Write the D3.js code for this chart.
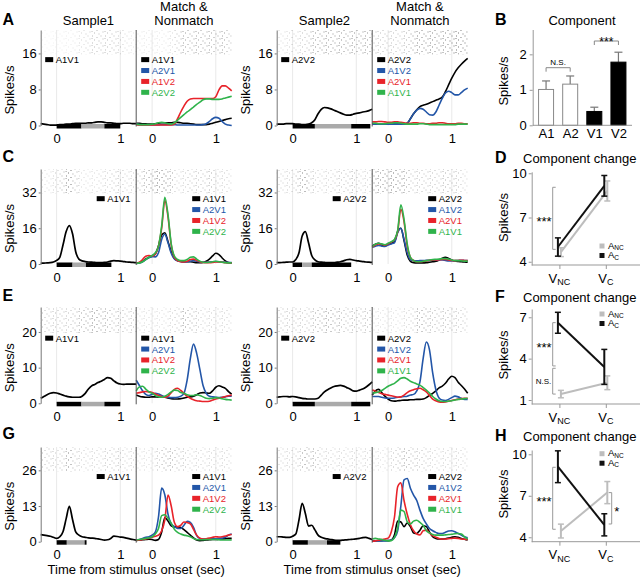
<!DOCTYPE html>
<html>
<head>
<meta charset="utf-8">
<script src="https://cdn.jsdelivr.net/npm/d3@7"></script>
<style>
  body { margin: 0; background: #fff; }
  svg  { display: block; font-family: "Liberation Sans", Arial, Helvetica, sans-serif; }
</style>
</head>
<body>
<svg id="fig" width="640" height="580"></svg>
<script>
"use strict";

// ── data: PSTH time grid (sec) ────────────────────────────────────────────────
const timeSec = [-0.25,-0.2,-0.15,-0.1,-0.05,0,0.05,0.1,0.15,0.2,
                 0.25,0.3,0.35,0.4,0.45,0.5,0.55,0.6,0.65,0.7,
                 0.75,0.8,0.85,0.9,0.95,1,1.05,1.1,1.15,1.2,
                 1.25];
const rasterStarts = [-0.25,-0.15,-0.05,0.05,0.15,0.25,0.35,0.45,0.55,0.65,0.75,0.85,0.95,1.05,1.15];

const legendMatch1 = ["A1V1", "A2V1", "A1V2", "A2V2"];
const legendMatch2 = ["A2V2", "A1V2", "A2V1", "A1V1"];

const yTicksA = [0, 8, 16];
const yTicksC = [0, 16, 32];
const yTicksE = [0, 10, 20];
const yTicksG = [0, 13, 26];
const rowYMax = [21.2, 42.5, 27, 34.5];

// stimulus timing bars: [start, end, 1 = black / 0 = gray]
const stimA_1 = [[0, 0.39, 1], [0.39, 0.75, 0], [0.75, 1.0, 1]];
const stimA_2 = [[0, 0.35, 1], [0.35, 0.92, 0], [0.92, 1.22, 1]];
const stimC_1 = [[0, 0.25, 1], [0.25, 0.46, 0], [0.46, 0.86, 1]];
const stimC_2 = [[0, 0.15, 1], [0.15, 0.30, 0], [0.30, 0.92, 1]];
const stimE_1 = [[0, 0.39, 1], [0.39, 0.75, 0], [0.75, 1.0, 1]];
const stimE_2 = [[0, 0.35, 1], [0.35, 0.92, 0], [0.92, 1.22, 1]];
const stimG_1 = [[0, 0.16, 1], [0.16, 0.44, 0], [0.44, 0.47, 1]];
const stimG_2 = [[0, 0.24, 1], [0.24, 0.54, 0], [0.54, 0.75, 1]];

// ── row A ─────────────────────────────────────────────────────────────────────
const A_s1   = [0.4,0.3,0.2,0.1,0.1,0.1,0.2,0.2,0.3,0.3, 0.4,0.5,0.5,0.5,0.5,0.6,0.6,0.7,0.8,0.8, 0.7,0.6,0.6,0.5,0.4,0.4,0.5,0.5,0.5,0.4, 0.4];
const A_m1_k = [0.5,0.5,0.4,0.4,0.3,0.3,0.4,0.5,0.6,0.6, 0.6,0.6,0.7,0.7,0.6,0.5,0.5,0.4,0.3,0.2, 0.2,0.2,0.2,0.3,0.5,0.7,0.9,1.1,1.3,1.5, 1.6];
const A_m1_b = [0.3,0.2,0.1,0.1,0.1,0.1,0.1,0.1,0.2,0.2, 0.2,0.2,0.2,0.1,0.1,0.1,0.1,0.1,0.1,0.1, 0.1,0.2,0.4,0.9,1.5,1.8,1.6,0.9,0.3,0.1, 0.0];
const A_m1_r = [0.2,0.1,0.1,0.1,0.1,0.1,0.1,0.1,0.1,0.1, 0.1,0.1,0.3,1.5,3.0,4.3,5.4,5.9,6.0,6.0, 6.0,6.0,6.0,6.0,6.0,6.4,7.9,8.8,8.8,8.3, 7.7];
const A_m1_g = [0.3,0.2,0.2,0.2,0.2,0.3,0.4,0.6,0.7,0.6, 0.4,0.3,0.6,1.2,1.8,2.4,3.0,3.5,4.1,4.7, 5.2,5.7,5.9,5.9,5.8,5.8,5.8,5.9,6.1,6.3, 6.5];
const A_s2   = [0.3,0.3,0.3,0.4,0.4,0.4,0.3,0.3,0.2,0.2, 0.3,0.6,1.3,2.6,3.6,4.0,3.9,3.7,3.4,3.1, 2.8,2.5,2.3,2.3,2.5,2.7,2.8,3.0,3.1,3.3, 3.6];
const A_m2_k = [0.4,0.4,0.4,0.3,0.3,0.3,0.3,0.3,0.3,0.3, 0.3,0.5,1.5,2.6,3.5,4.2,4.5,4.7,5.0,5.3, 5.6,5.9,6.3,7.5,9.0,10.5,11.8,12.8,13.6,14.3, 14.9];
const A_m2_b = [0.3,0.3,0.3,0.3,0.3,0.3,0.3,0.3,0.3,0.3, 0.3,0.5,1.5,2.6,3.4,3.8,3.6,3.0,2.4,2.3, 3.0,4.5,6.0,7.2,7.6,7.3,6.8,6.8,7.3,7.9, 8.3];
const A_m2_r = [0.8,0.8,0.9,0.9,0.8,0.7,0.7,0.8,0.8,0.7, 0.6,0.5,0.5,0.6,0.6,0.5,0.5,0.4,0.4,0.5, 0.5,0.6,0.6,0.5,0.4,0.4,0.4,0.5,0.5,0.4, 0.4];
const A_m2_g = [0.5,0.5,0.4,0.4,0.4,0.5,0.5,0.6,0.6,0.5, 0.4,0.3,0.3,0.3,0.3,0.4,0.4,0.3,0.2,0.2, 0.2,0.2,0.2,0.2,0.2,0.2,0.2,0.3,0.3,0.3, 0.3];

// ── row C ─────────────────────────────────────────────────────────────────────
const C_s1   = [0.3,0.4,0.5,0.6,0.9,1.6,3.0,8.5,14.5,17.2, 13.5,5.5,2.2,1.4,1.1,0.9,0.8,0.7,0.6,0.6, 0.7,0.9,1.3,1.5,1.4,1.3,1.1,0.9,0.8,0.7, 0.6];
const C_m1_k = [0.3,0.6,1.2,2.3,3.0,3.6,4.5,8.0,13.0,14.0, 10.0,5.5,2.5,1.5,1.2,1.0,1.0,1.0,0.8,0.6, 0.6,0.7,1.2,2.2,3.6,4.8,4.2,2.7,1.4,0.7, 0.5];
const C_m1_b = [0.3,0.5,1.0,2.0,2.8,3.3,3.2,5.0,11.0,13.3, 9.5,4.8,2.2,1.4,1.0,0.9,1.0,1.3,1.5,1.2, 0.9,0.8,0.8,0.9,1.0,1.1,1.0,0.9,0.8,0.7, 0.6];
const C_m1_r = [0.3,0.8,2.0,3.5,3.8,3.6,4.5,8.0,16.0,28.5, 21.0,8.5,3.0,1.5,1.0,0.9,1.2,2.0,2.2,1.6, 1.0,0.7,0.6,0.6,0.7,0.9,0.9,0.8,0.6,0.5, 0.5];
const C_m1_g = [0.3,0.5,1.0,2.0,3.0,3.8,5.0,8.0,17.0,29.8, 22.0,9.0,3.5,2.0,1.5,1.5,2.0,3.0,3.2,2.2, 1.3,0.8,0.7,0.8,1.0,1.2,1.0,0.8,0.6,0.5, 0.5];
const C_s2   = [0.6,0.6,0.7,0.8,0.9,0.9,2.0,5.0,12.5,14.5, 9.5,3.8,1.8,1.0,0.8,0.7,0.6,0.6,0.6,0.8, 1.0,1.4,1.9,2.1,1.8,1.5,1.3,1.1,0.9,0.8, 0.7];
const C_m2_k = [8.0,8.8,9.3,8.5,8.0,8.8,9.3,10.0,14.5,16.0, 10.5,4.0,1.2,0.6,0.5,0.5,0.5,0.6,0.8,1.0, 1.2,1.8,2.6,3.0,2.5,1.8,1.3,1.1,1.0,0.9, 0.8];
const C_m2_b = [7.5,8.0,8.3,8.0,7.8,8.5,9.0,9.5,14.0,16.0, 11.0,5.0,2.0,1.5,1.4,1.5,1.5,1.6,1.6,1.7, 1.7,1.8,1.8,1.6,1.4,1.4,1.5,1.6,1.7,1.6, 1.5];
const C_m2_r = [7.5,8.5,9.0,8.8,8.4,9.0,9.8,10.8,14.5,24.5, 19.0,8.0,3.0,1.5,1.0,1.0,1.1,1.4,1.7,1.8, 1.8,1.9,2.0,2.0,1.8,1.6,1.5,1.6,1.7,1.6, 1.5];
const C_m2_g = [7.8,8.8,9.3,9.0,8.6,9.3,10.0,11.0,15.0,26.5, 20.0,9.0,3.0,1.5,1.0,1.0,1.2,1.5,1.8,2.0, 2.1,2.2,2.4,2.4,2.2,1.8,1.5,1.5,1.4,1.3, 1.3];

// ── row E ─────────────────────────────────────────────────────────────────────
const E_s1   = [1.4,1.9,2.4,2.8,3.0,2.9,2.6,2.3,2.0,1.8, 1.7,1.7,1.7,2.0,2.8,4.0,4.9,5.3,5.8,6.2, 6.7,7.2,7.0,6.3,5.7,5.4,5.3,5.4,5.4,5.4, 5.4];
const E_m1_k = [2.3,2.0,1.8,1.7,1.7,1.8,1.8,1.7,1.7,1.7, 1.5,1.3,1.2,1.2,1.3,1.5,1.7,1.8,2.0,2.4, 2.9,3.0,2.9,2.8,3.5,4.5,4.9,4.6,4.2,3.3, 2.6];
const E_m1_b = [6.5,5.0,3.5,2.5,2.2,2.5,2.8,2.6,2.2,1.8, 1.7,1.6,1.6,1.7,2.0,2.8,6.5,12.5,16.6,14.0, 9.5,5.0,2.8,2.0,1.8,1.7,1.6,1.7,1.8,2.0, 2.0];
const E_m1_r = [2.8,3.0,3.2,3.3,3.2,3.0,2.6,2.2,1.9,1.7, 2.0,3.0,3.9,4.2,3.6,2.8,2.0,1.4,1.0,0.7, 0.6,0.5,0.5,0.6,0.9,1.2,1.4,1.6,1.9,2.1, 2.3];
const E_m1_g = [3.5,4.6,4.8,4.0,3.2,2.8,2.2,1.8,1.7,2.0, 2.5,3.2,3.7,3.6,3.0,2.8,2.4,2.2,2.2,2.4, 2.2,1.8,1.4,1.3,1.4,1.6,1.5,1.3,1.1,1.0, 0.9];
const E_s2   = [1.7,1.8,1.9,1.9,1.8,1.9,1.8,1.6,1.4,1.3, 1.2,1.2,1.2,1.4,2.3,3.2,3.8,4.3,4.7,4.9, 5.0,4.8,4.4,4.0,3.5,3.4,3.7,4.0,4.5,5.2, 6.0];
const E_m2_k = [2.3,3.5,3.9,3.0,2.0,1.2,0.7,0.6,0.7,0.8, 0.9,0.9,1.0,1.0,1.1,1.1,1.2,1.6,2.2,2.8, 3.5,4.3,4.8,5.6,6.8,7.6,7.2,5.9,5.0,4.0, 2.8];
const E_m2_b = [1.9,1.9,1.9,1.7,1.5,1.4,1.4,1.5,1.7,1.8, 1.9,2.0,2.3,2.5,3.5,6.0,12.5,17.2,15.0,8.5, 3.8,1.5,0.9,0.8,1.1,1.6,2.0,1.8,1.4,1.1, 1.1];
const E_m2_r = [3.7,3.4,3.0,2.7,2.5,2.3,2.1,1.9,1.7,1.8, 2.3,3.0,3.5,3.8,4.1,4.2,3.8,3.2,2.2,1.2, 0.7,0.4,0.3,0.4,0.6,0.8,1.0,1.2,1.3,1.4, 1.4];
const E_m2_g = [2.8,3.0,3.2,3.6,4.2,4.8,5.2,5.6,6.3,7.0, 7.2,6.8,6.2,5.8,5.4,5.1,4.4,3.7,2.9,1.9, 1.2,0.7,0.5,0.5,0.6,0.7,0.9,1.1,1.2,1.3, 1.4];

// ── row G ─────────────────────────────────────────────────────────────────────
const G_s1   = [2.6,2.4,2.2,2.0,1.6,1.2,1.8,3.6,8.4,12.9, 8.1,3.6,2.4,1.8,1.6,1.4,1.3,1.2,1.0,0.8, 0.6,0.7,1.2,2.0,1.9,1.7,1.6,1.3,1.0,0.8, 0.6];
const G_m1_k = [0.5,0.6,0.7,0.8,0.9,0.8,0.5,0.8,3.5,8.8, 7.5,5.8,5.4,5.4,5.2,4.4,3.4,2.4,1.4,0.6, 0.4,0.5,0.6,0.7,0.8,0.8,0.9,1.0,1.1,1.2, 1.2];
const G_m1_b = [0.4,0.8,1.2,1.6,1.8,2.4,3.5,9.0,19.5,17.0, 10.0,6.5,5.5,4.8,4.8,6.0,7.4,7.0,5.2,2.2, 1.2,1.0,1.0,1.0,1.1,1.1,1.2,1.3,1.6,2.4, 2.8];
const G_m1_r = [0.5,0.6,0.8,1.0,1.3,1.6,2.0,2.4,4.0,8.0, 17.0,13.0,7.0,5.5,6.0,7.2,7.0,6.5,4.5,2.4, 1.3,1.0,1.1,1.3,1.6,1.8,1.7,1.8,2.1,2.4, 2.6];
const G_m1_g = [0.6,0.8,1.0,1.2,1.4,1.8,2.8,4.8,9.5,9.8, 8.5,6.8,4.5,3.4,2.8,2.4,2.2,1.8,1.2,0.8, 0.7,0.7,0.8,0.8,0.8,0.8,0.7,0.6,0.6,0.6, 0.6];
const G_s2   = [1.8,1.8,1.7,1.6,1.6,2.0,2.8,7.9,14.0,10.3, 5.7,6.0,4.3,2.4,1.6,1.2,1.0,0.8,0.6,0.5, 0.5,0.6,0.7,0.8,0.9,1.0,1.2,1.5,1.6,1.2, 0.8];
const G_m2_k = [0.3,0.3,0.4,0.4,0.5,0.4,0.6,2.5,7.5,7.2, 5.5,6.8,5.5,3.2,3.0,4.2,5.8,5.5,3.5,1.8, 1.2,1.0,1.0,1.1,1.3,1.6,1.8,1.6,1.2,0.9, 0.6];
const G_m2_b = [0.2,0.2,0.3,0.3,0.3,0.4,0.6,1.5,4.0,13.0, 22.5,23.0,19.5,17.0,15.0,11.5,8.5,6.5,4.8,4.0, 3.4,3.0,3.0,3.4,3.9,4.0,3.6,3.0,2.4,1.8, 1.4];
const G_m2_r = [0.2,0.3,0.5,0.8,1.0,1.3,3.6,9.0,20.0,21.5, 15.0,10.0,6.2,4.0,2.8,2.5,4.0,4.2,3.2,2.2, 1.6,1.2,1.0,1.0,1.1,1.2,1.3,1.2,1.0,0.9, 0.8];
const G_m2_g = [1.0,1.2,1.0,0.8,0.5,0.3,0.4,1.5,5.0,11.5, 11.0,7.3,6.5,7.5,7.8,7.0,6.0,4.0,3.2,2.6, 2.4,2.4,2.4,2.5,2.6,2.7,2.9,3.0,2.8,1.8, 1.0];

// ── raster density per 0.1 s bin (0..1) ───────────────────────────────────────
const rasA_s1 = [0.1,0.1,0.1,0.15,0.15,0.2,0.3,0.4,0.5,0.5,0.5,0.5,0.4,0.3,0.2];
const rasA_m1 = [0.2,0.2,0.2,0.2,0.2,0.3,0.5,0.7,0.7,0.7,0.7,0.7,0.7,0.7,0.6];
const rasA_s2 = [0.3,0.3,0.4,0.4,0.5,0.7,0.8,0.8,0.8,0.8,0.8,0.8,0.8,0.8,0.8];
const rasA_m2 = [0.5,0.5,0.5,0.5,0.5,0.6,0.8,0.9,0.9,0.9,0.9,0.9,1,1,1];
const rasC_s1 = [0.3,0.3,0.4,0.6,1.0,0.6,0.3,0.3,0.3,0.4,0.4,0.5,0.5,0.4,0.4];
const rasC_m1 = [0.5,0.7,0.9,1.0,1.0,0.7,0.4,0.4,0.5,0.5,0.5,0.6,0.5,0.4,0.4];
const rasC_s2 = [0.4,0.4,0.4,0.7,1.0,0.5,0.4,0.4,0.4,0.5,0.5,0.6,0.5,0.4,0.4];
const rasC_m2 = [0.9,0.9,1.0,1.0,1.0,0.7,0.5,0.5,0.5,0.5,0.5,0.6,0.6,0.5,0.4];
const rasE_s1 = [0.5,0.5,0.5,0.5,0.5,0.6,0.7,0.8,0.9,0.8,0.7,0.6,0.6,0.5,0.5];
const rasE_m1 = [0.3,0.3,0.3,0.3,0.3,0.4,0.5,0.8,0.7,0.5,0.4,0.4,0.4,0.4,0.4];
const rasE_s2 = [0.5,0.5,0.5,0.5,0.5,0.6,0.7,0.8,0.8,0.7,0.6,0.6,0.6,0.6,0.6];
const rasE_m2 = [0.3,0.3,0.3,0.3,0.3,0.4,0.5,0.8,0.7,0.6,0.6,0.6,0.6,0.5,0.5];
const rasG_s1 = [0.5,0.5,0.4,0.5,0.9,0.5,0.4,0.4,0.4,0.4,0.5,0.5,0.5,0.4,0.4];
const rasG_m1 = [0.3,0.3,0.3,0.5,0.7,0.7,0.6,0.5,0.4,0.4,0.4,0.4,0.4,0.4,0.4];
const rasG_s2 = [0.4,0.4,0.4,0.5,0.9,0.7,0.6,0.4,0.4,0.4,0.4,0.4,0.4,0.4,0.4];
const rasG_m2 = [0.3,0.3,0.3,0.5,0.7,0.7,0.6,0.5,0.5,0.4,0.4,0.4,0.4,0.4,0.4];

// ── panel B: component ────────────────────────────────────────────────────────
const compCats = ["A1", "A2", "V1", "V2"];
const compMean = [1.01, 1.16, 0.39, 1.78];
const compSem  = [0.24, 0.23, 0.12, 0.28];
const compTicks = [0, 1, 2];

// ── panels D / F / H: component change ───────────────────────────────────────
const changeCats = ["NC", "C"];
const D_ac = [5.0, 9.15],  D_acSem = [0.62, 0.70];
const D_anc = [4.65, 8.8], D_ancSem = [0.30, 0.68];
const D_sig = [[4.84, 9.05, "***", "L"]];
const F_ac = [6.6, 3.4],   F_acSem = [0.76, 1.27];
const F_anc = [1.43, 2.25], F_ancSem = [0.27, 0.50];
const F_sig = [[3.47, 6.61, "***", "L"], [1.43, 3.3, "N.S.", "L"]];
const H_ac = [9.1, 4.9],   H_acSem = [1.15, 0.80];
const H_anc = [4.45, 7.23], H_ancSem = [0.50, 0.80];
const H_sig = [[4.58, 9.06, "***", "L"], [4.96, 7.23, "*", "R"]];

// ── layout / style ────────────────────────────────────────────────────────────
const COLORS = ["#000000", "#2356a8", "#e8232a", "#2fb34b"];
const tDomain = [-0.25, 1.25];
const rowBase = [125.5, 264, 403.3, 541.7];
const rowTop  = [30, 169, 307, 447];
const pairX   = [40.7, 276.7];
const panelW  = 95.5;
const AXIS_GRAY = "#777";
const LEG_STEP = 10.9;
const fmtInt = d3.format("d");

const rows = [
  { letter: "A", ticks: yTicksA, legendRight: false, pairs: [
    { sample: A_s1, sLabel: "A1V1", stim: stimA_1, rasS: rasA_s1, match: [A_m1_k, A_m1_b, A_m1_r, A_m1_g], rasM: rasA_m1, legend: legendMatch1 },
    { sample: A_s2, sLabel: "A2V2", stim: stimA_2, rasS: rasA_s2, match: [A_m2_k, A_m2_b, A_m2_r, A_m2_g], rasM: rasA_m2, legend: legendMatch2 } ] },
  { letter: "C", ticks: yTicksC, legendRight: true, pairs: [
    { sample: C_s1, sLabel: "A1V1", stim: stimC_1, rasS: rasC_s1, match: [C_m1_k, C_m1_b, C_m1_r, C_m1_g], rasM: rasC_m1, legend: legendMatch1 },
    { sample: C_s2, sLabel: "A2V2", stim: stimC_2, rasS: rasC_s2, match: [C_m2_k, C_m2_b, C_m2_r, C_m2_g], rasM: rasC_m2, legend: legendMatch2 } ] },
  { letter: "E", ticks: yTicksE, legendRight: false, pairs: [
    { sample: E_s1, sLabel: "A1V1", stim: stimE_1, rasS: rasE_s1, match: [E_m1_k, E_m1_b, E_m1_r, E_m1_g], rasM: rasE_m1, legend: legendMatch1 },
    { sample: E_s2, sLabel: "A2V2", stim: stimE_2, rasS: rasE_s2, match: [E_m2_k, E_m2_b, E_m2_r, E_m2_g], rasM: rasE_m2, legend: legendMatch2 } ] },
  { letter: "G", ticks: yTicksG, legendRight: true, pairs: [
    { sample: G_s1, sLabel: "A1V1", stim: stimG_1, rasS: rasG_s1, match: [G_m1_k, G_m1_b, G_m1_r, G_m1_g], rasM: rasG_m1, legend: legendMatch1 },
    { sample: G_s2, sLabel: "A2V2", stim: stimG_2, rasS: rasG_s2, match: [G_m2_k, G_m2_b, G_m2_r, G_m2_g], rasM: rasG_m2, legend: legendMatch2 } ] },
];

const svg = d3.select("#fig");

// speckle pattern used to suggest the spike rasters
const pat = svg.append("defs").append("pattern")
  .attr("id", "speck").attr("patternUnits", "userSpaceOnUse")
  .attr("width", 13).attr("height", 7);
[[1, 0.5], [5.5, 2], [9.5, 0.5], [3, 4.5], [7.5, 5.5], [11.5, 3.5], [0.5, 3]].forEach(([px, py]) =>
  pat.append("rect").attr("x", px).attr("y", py).attr("width", 1).attr("height", 1).attr("fill", "#555"));

function label(g, x, y, txt, size, opts = {}) {
  return g.append("text").attr("x", x).attr("y", y)
    .attr("font-size", size)
    .attr("font-weight", opts.bold ? "bold" : null)
    .attr("text-anchor", opts.anchor || "start")
    .attr("fill", opts.fill || "#000")
    .text(txt);
}

function styleAxis(ax, color) {
  ax.select(".domain").attr("stroke", color);
  ax.selectAll(".tick line").attr("stroke", color);
  ax.selectAll("text").attr("fill", "#000").attr("font-size", 13)
    .attr("font-family", "Liberation Sans, Arial, sans-serif");
}

// ── PSTH panels ───────────────────────────────────────────────────────────────
function drawRaster(g, x, y, dens, yMax, topTick) {
  const y0 = y(yMax), y1 = y(topTick) + 1;
  g.selectAll(null).data(dens).enter().append("rect")
    .attr("x", (d, i) => x(rasterStarts[i]))
    .attr("width", (d, i) => x(rasterStarts[i] + 0.1) - x(rasterStarts[i]))
    .attr("y", y0).attr("height", y1 - y0)
    .attr("fill", "url(#speck)")
    .attr("opacity", d => d * 0.8);
}

function drawLegend(g, lx, cy0, labels, colored) {
  labels.forEach((lab, i) => {
    const cy = cy0 + i * LEG_STEP;
    const c = colored ? COLORS[i] : "#000";
    g.append("rect").attr("x", lx).attr("y", cy - 2.5).attr("width", 8).attr("height", 5).attr("fill", c);
    label(g, lx + 10.5, cy + 3.5, lab, 9.5, { fill: c });
  });
}

rows.forEach((row, ri) => {
  const base = rowBase[ri];
  const yMax = rowYMax[ri];
  const y = d3.scaleLinear().domain([0, yMax]).range([base, rowTop[ri]]);
  const topTick = d3.max(row.ticks);
  const legendY = y(topTick) + 6.2;

  label(svg, 2.5, base - 102.5 + (ri === 0 ? 2 : 0), row.letter, 16, { bold: true });

  row.pairs.forEach((p, pi) => {
    const x0 = pairX[pi];
    const g = svg.append("g");
    const xs = d3.scaleLinear().domain(tDomain).range([x0, x0 + panelW]);
    const xm = d3.scaleLinear().domain(tDomain).range([x0 + panelW, x0 + 2 * panelW]);

    [xs, xm].forEach(x => {
      [0, 1].forEach(t => g.append("line")
        .attr("x1", x(t)).attr("x2", x(t)).attr("y1", y(yMax)).attr("y2", base)
        .attr("stroke", "#e2e2e2").attr("stroke-width", 0.8));
    });

    drawRaster(g, xs, y, p.rasS, yMax, topTick);
    drawRaster(g, xm, y, p.rasM, yMax, topTick);

    // stimulus bar
    g.selectAll(null).data(p.stim).enter().append("rect")
      .attr("x", d => xs(d[0])).attr("width", d => xs(d[1]) - xs(d[0]))
      .attr("y", base - 1.5).attr("height", 4.5)
      .attr("fill", d => d[2] ? "#000" : "#aaa");

    const lineS = d3.line().x((d, i) => xs(timeSec[i])).y(d => y(d)).curve(d3.curveMonotoneX);
    const lineM = d3.line().x((d, i) => xm(timeSec[i])).y(d => y(d)).curve(d3.curveMonotoneX);

    g.append("path").datum(p.sample).attr("d", lineS)
      .attr("fill", "none").attr("stroke", "#000").attr("stroke-width", 1.7);
    p.match.forEach((s, k) => {
      g.append("path").datum(s).attr("d", lineM)
        .attr("fill", "none").attr("stroke", COLORS[k]).attr("stroke-width", 1.6);
    });

    // y axis + divider
    g.append("g").attr("transform", `translate(${x0},0)`)
      .call(d3.axisLeft(y).tickValues(row.ticks).tickSize(2).tickSizeOuter(0).tickPadding(2).tickFormat(fmtInt))
      .call(ax => styleAxis(ax, AXIS_GRAY));
    g.append("line")
      .attr("x1", x0 + panelW).attr("x2", x0 + panelW)
      .attr("y1", y(yMax)).attr("y2", base + 1)
      .attr("stroke", "#555").attr("stroke-width", 1);

    // x tick labels
    [xs, xm].forEach(x => {
      g.append("g").attr("transform", `translate(0,${base})`)
        .call(d3.axisBottom(x).tickValues([0, 1]).tickSize(0).tickPadding(8.5).tickFormat(fmtInt))
        .call(ax => { ax.select(".domain").remove(); styleAxis(ax, AXIS_GRAY); });
    });

    // legends
    const offS = row.legendRight ? 56 : 4.5;
    drawLegend(g, x0 + offS, legendY, [p.sLabel], false);
    drawLegend(g, x0 + panelW + (row.legendRight ? 56 : 5), legendY, p.legend, true);

    // y label
    label(g, 0, 0, "Spikes/s", 13, { anchor: "middle" })
      .attr("transform", `translate(${x0 - 26.5},${base - 35.5}) rotate(-90)`);

    // column titles on top row
    if (ri === 0) {
      label(g, x0 + panelW / 2, 25, pi === 0 ? "Sample1" : "Sample2", 13, { anchor: "middle" });
      label(g, x0 + panelW * 1.5, 10.5, "Match &", 13, { anchor: "middle" });
      label(g, x0 + panelW * 1.5, 25, "Nonmatch", 13, { anchor: "middle" });
    }
    if (ri === rows.length - 1) {
      label(g, x0 + panelW, 574, "Time from stimulus onset (sec)", 13, { anchor: "middle" });
    }
  });
});

// ── Panel B: component bars ───────────────────────────────────────────────────
(function drawComponent() {
  const g = svg.append("g");
  const axX = 532.7;
  const bx = d3.scalePoint().domain(compCats).range([534, 630.5]).padding(0.5);
  const by = d3.scaleLinear().domain([0, 2.7]).range([125.3, 29.5]);

  label(g, 495, 25, "B", 16, { bold: true });
  label(g, 582, 25, "Component", 13, { anchor: "middle" });

  compCats.forEach((c, i) => {
    const filled = c[0] === "V";
    const cx = bx(c);
    g.append("line").attr("x1", cx).attr("x2", cx)
      .attr("y1", by(compMean[i])).attr("y2", by(compMean[i] + compSem[i]))
      .attr("stroke", "#777").attr("stroke-width", 1.2);
    g.append("line").attr("x1", cx - 4).attr("x2", cx + 4)
      .attr("y1", by(compMean[i] + compSem[i])).attr("y2", by(compMean[i] + compSem[i]))
      .attr("stroke", "#777").attr("stroke-width", 1.2);
    g.append("rect").attr("x", cx - 7.5).attr("width", 15)
      .attr("y", by(compMean[i])).attr("height", by(0) - by(compMean[i]))
      .attr("fill", filled ? "#000" : "#fff")
      .attr("stroke", filled ? "#000" : "#888").attr("stroke-width", 1);
  });

  g.append("g").attr("transform", `translate(${axX},0)`)
    .call(d3.axisLeft(by).tickValues(compTicks).tickSize(3).tickSizeOuter(0).tickPadding(3).tickFormat(fmtInt))
    .call(ax => styleAxis(ax, "#999"));
  g.append("line").attr("x1", axX).attr("x2", 632).attr("y1", by(0)).attr("y2", by(0))
    .attr("stroke", "#999");
  g.append("g").attr("transform", `translate(0,${by(0)})`)
    .call(d3.axisBottom(bx).tickSize(0).tickPadding(3))
    .call(ax => { ax.select(".domain").remove(); styleAxis(ax, "#999"); });

  // significance brackets
  function hBracket(c1, c2, yPos, txt, size, dyTxt) {
    const x1 = bx(c1), x2 = bx(c2);
    g.append("path")
      .attr("d", `M${x1},${yPos + 4}V${yPos}H${x2}V${yPos + 4}`)
      .attr("fill", "none").attr("stroke", "#888").attr("stroke-width", 1);
    label(g, (x1 + x2) / 2, yPos + dyTxt, txt, size, { anchor: "middle" });
  }
  hBracket("A1", "A2", 67.7, "N.S.", 8, -2.8);
  hBracket("V1", "V2", 41, "***", 12, 5.2);

  label(g, 0, 0, "Spikes/s", 13, { anchor: "middle" })
    .attr("transform", "translate(507.5,81) rotate(-90)");
})();

// ── Panels D / F / H: component change ────────────────────────────────────────
function drawChange(spec) {
  const g = svg.append("g");
  const axX = 531.7;
  const x = d3.scalePoint().domain(changeCats).range([559.4, 605.8]);
  const y = d3.scaleLinear().domain(spec.yDomain).range(spec.yRange);
  const base = spec.yRange[0];

  label(g, 495, spec.titleY, spec.letter, 16, { bold: true });
  label(g, 523, spec.titleY, "Component change", 13);

  // axes
  g.append("g").attr("transform", `translate(${axX},0)`)
    .call(d3.axisLeft(y).tickValues(spec.ticks).tickSize(3).tickSizeOuter(0).tickPadding(2).tickFormat(fmtInt))
    .call(ax => styleAxis(ax, "#999"));
  g.append("line").attr("x1", axX).attr("x2", 640).attr("y1", base).attr("y2", base).attr("stroke", "#999");
  g.append("g").attr("transform", `translate(0,${base})`)
    .call(d3.axisBottom(x).tickSize(4).tickPadding(4).tickFormat(""))
    .call(ax => { ax.select(".domain").remove(); styleAxis(ax, "#999"); });
  changeCats.forEach(c => {
    const t = g.append("text").attr("x", x(c)).attr("y", base + 17.5)
      .attr("text-anchor", "middle").attr("font-size", 13);
    t.append("tspan").text("V");
    t.append("tspan").attr("font-size", 9).attr("dy", 2.5).text(c);
  });

  // series: gray (A_NC) first, black (A_C) on top
  const series = [
    { mean: spec.anc, sem: spec.ancSem, color: "#bdbdbd", dx: 1.5 },
    { mean: spec.ac,  sem: spec.acSem,  color: "#111111", dx: -1.5 },
  ];
  series.forEach(s => {
    const line = d3.line().x((d, i) => x(changeCats[i]) + s.dx).y(d => y(d));
    g.append("path").datum(s.mean).attr("d", line)
      .attr("fill", "none").attr("stroke", s.color).attr("stroke-width", 2);
    s.mean.forEach((m, i) => {
      const cx = x(changeCats[i]) + s.dx;
      g.append("line").attr("x1", cx).attr("x2", cx)
        .attr("y1", y(m - s.sem[i])).attr("y2", y(m + s.sem[i]))
        .attr("stroke", s.color).attr("stroke-width", 2);
      [m - s.sem[i], m + s.sem[i]].forEach(v => g.append("line")
        .attr("x1", cx - 3).attr("x2", cx + 3).attr("y1", y(v)).attr("y2", y(v))
        .attr("stroke", s.color).attr("stroke-width", 1.5));
    });
  });

  // significance brackets
  spec.sig.forEach(([lo, hi, txt, side]) => {
    const bxp = side === "L" ? 552.7 : 611.7;
    const tick = side === "L" ? 3 : -3;
    const yl = y(lo), yh = y(hi);
    g.append("path")
      .attr("d", `M${bxp + tick},${yh}H${bxp}V${yl}H${bxp + tick}`)
      .attr("fill", "none").attr("stroke", "#999").attr("stroke-width", 1);
    const mid = (yl + yh) / 2;
    if (txt === "N.S.") {
      label(g, bxp - 1.5, mid + 2.9, txt, 8, { anchor: "end" });
    } else if (side === "L") {
      label(g, bxp - 1, mid + 7.5, txt, 13, { anchor: "end" });
    } else {
      label(g, bxp + 2.5, mid + 7.5, txt, 13);
    }
  });

  // legend
  [["NC", "#bdbdbd"], ["C", "#111111"]].forEach(([sub, col], i) => {
    const cy = spec.legendY + i * 9.5;
    g.append("rect").attr("x", 599.5).attr("y", cy - 2.5).attr("width", 5).attr("height", 5).attr("fill", col);
    const t = g.append("text").attr("x", 608).attr("y", cy + 2.5).attr("font-size", 9.5);
    t.append("tspan").text("A");
    t.append("tspan").attr("font-size", 6.5).attr("dy", 1.5).text(sub);
  });

  label(g, 0, 0, "Spikes/s", 13, { anchor: "middle" })
    .attr("transform", `translate(507.5,${spec.ylabY}) rotate(-90)`);
}

drawChange({ letter: "D", titleY: 163, yDomain: [3.78, 10.1], yRange: [265, 171.8], ticks: [4, 7, 10],
  ac: D_ac, acSem: D_acSem, anc: D_anc, ancSem: D_ancSem, sig: D_sig, legendY: 246, ylabY: 217.5 });
drawChange({ letter: "F", titleY: 301.5, yDomain: [0.71, 7.6], yRange: [404, 309], ticks: [1, 4, 7],
  ac: F_ac, acSem: F_acSem, anc: F_anc, ancSem: F_ancSem, sig: F_sig, legendY: 314, ylabY: 355 });
drawChange({ letter: "H", titleY: 441, yDomain: [3.68, 10.31], yRange: [541.7, 450], ticks: [4, 7, 10],
  ac: H_ac, acSem: H_acSem, anc: H_anc, ancSem: H_ancSem, sig: H_sig, legendY: 453.7, ylabY: 494 });
</script>
</body>
</html>
